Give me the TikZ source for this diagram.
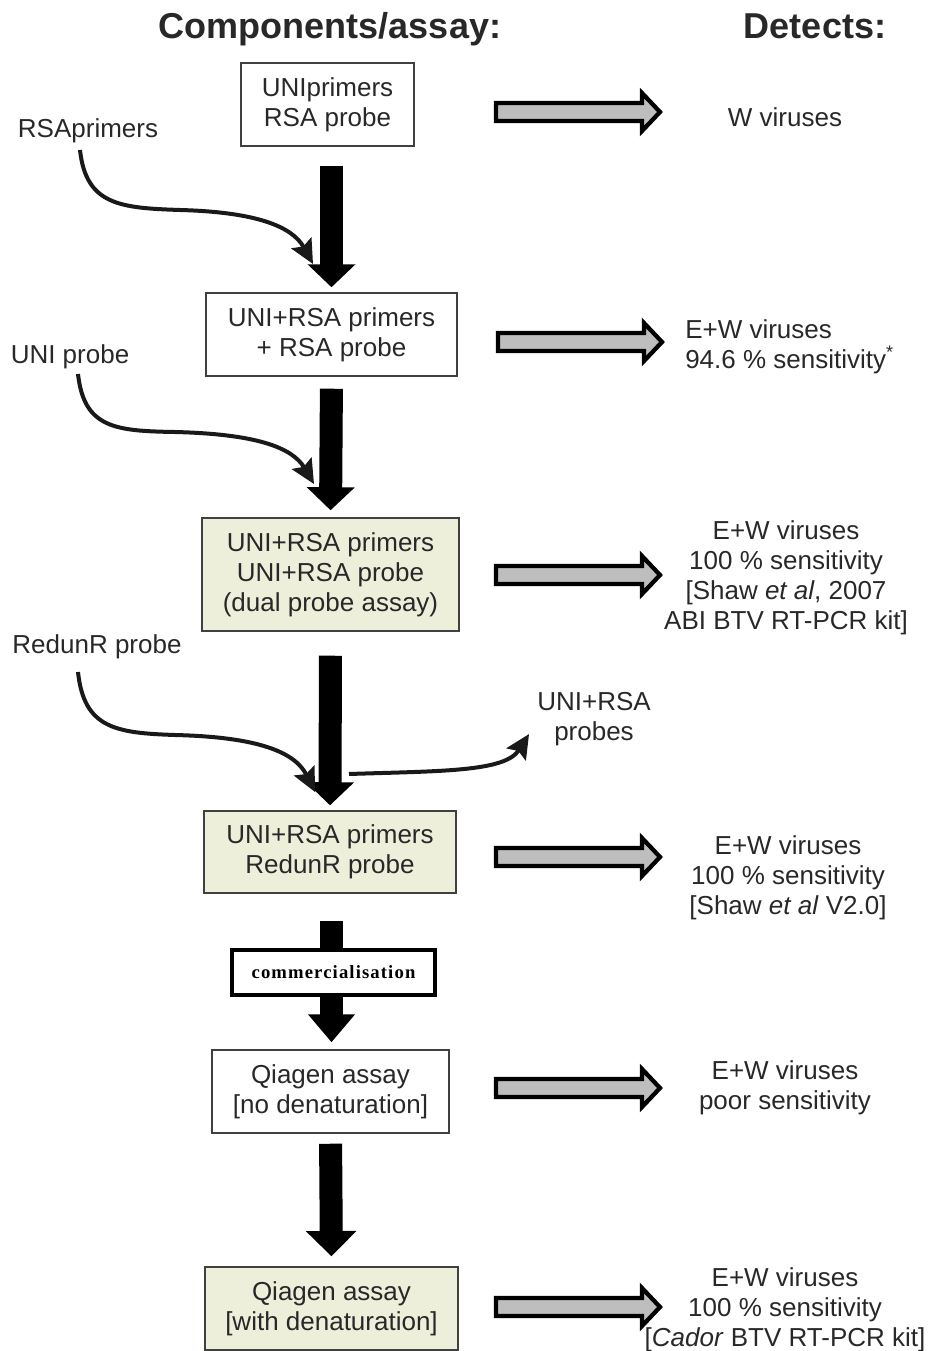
\documentclass[tikz,border=0pt]{standalone}
\usepackage{fontspec}
\setmainfont{Liberation Sans}
\newfontfamily\commfont[LetterSpace=6]{Liberation Serif}
\usetikzlibrary{arrows.meta,calc}
\definecolor{boxgreen}{RGB}{237,239,219}
\definecolor{txt}{RGB}{40,40,40}
\definecolor{arrowgray}{RGB}{190,190,190}
\newcommand\bxfont{\fontsize{19.5pt}{22.5pt}\selectfont}
\newcommand\ttlfont{\fontsize{27pt}{30pt}\selectfont\bfseries}
\tikzset{
  box/.style={draw=black!75, line width=1.1pt, align=center, inner sep=0pt, font=\bxfont, text=txt},
  greenbox/.style={box, fill=boxgreen},
  lbl/.style={align=center, inner sep=0pt, font=\bxfont, text=txt},
  downarrow/.style={draw=black, line width=17.25pt, -{Triangle[length=17.25pt,width=35pt]}},
  shaft/.style={draw=black, line width=17.25pt},
  curvearrow/.style={draw=black!90, line width=3pt, -{Stealth[length=18pt,width=17pt,inset=3pt]}},
  grayarrow/.pic={
    \filldraw[draw=black, fill=arrowgray, line width=3.2pt, line join=miter]
      (0,-9) -- (146,-9) -- (146,-19) -- (164,0) -- (146,19) -- (146,9) -- (0,9) -- cycle;
  }
}
\begin{document}
\begin{tikzpicture}[x=0.75pt,y=-0.75pt]
\useasboundingbox (0,0) rectangle (930,1351);

% titles
\node[font=\ttlfont, text=txt, anchor=base, inner sep=0pt] (t1) at (330,39) {Components/assay:};
\node[font=\ttlfont, text=txt, anchor=base, inner sep=0pt] (t2) at (815,39) {Detects:};

% boxes
\node[box, minimum width=129.75pt, minimum height=62.25pt] (b1) at (327.5,104.5) {UNIprimers\\RSA probe};
\node[box, minimum width=188.25pt, minimum height=62.25pt] (b2) at (331.5,334.5) {UNI+RSA primers\\+ RSA probe};
\node[greenbox, minimum width=192.75pt, minimum height=84.75pt] (b3) at (330.5,574.5) {UNI+RSA primers\\UNI+RSA probe\\(dual probe assay)};
\node[greenbox, minimum width=189pt, minimum height=61.5pt] (b4) at (330,852) {UNI+RSA primers\\RedunR probe};
\node[draw=black, line width=2.4pt, fill=white, minimum width=152.25pt, minimum height=33.75pt, inner sep=0pt,
      font=\commfont\bfseries\fontsize{14pt}{16pt}\selectfont] (cm) at (333.5,972.5) {commercialisation};
\node[box, minimum width=177.75pt, minimum height=62.25pt] (b6) at (330.5,1091.5) {Qiagen assay\\{}[no denaturation]};
\node[greenbox, minimum width=189.75pt, minimum height=62.25pt] (b7) at (331.5,1308.5) {Qiagen assay\\{}[with denaturation]};

% side labels
\node[lbl] (l1) at (88,131) {RSAprimers};
\node[lbl] (l2) at (70,357) {UNI probe};
\node[lbl] (l3) at (97,647) {RedunR probe};
\node[lbl] (l4) at (594,719) {UNI+RSA\\probes};

% right texts
\node[lbl] (r1) at (785,117) {W viruses};
\node[lbl, align=left, anchor=west] (r2) at (685,347) {E+W viruses\\94.6 \% sensitivity\textsuperscript{*}};
\node[lbl] (r3) at (786,578) {E+W viruses\\100 \% sensitivity\\{}[Shaw \textit{et al}, 2007\\ABI BTV RT-PCR kit]};
\node[lbl] (r4) at (788,877.5) {E+W viruses\\100 \% sensitivity\\{}[Shaw \textit{et al} V2.0]};
\node[lbl] (r5) at (785,1088) {E+W viruses\\poor sensitivity};
\node[lbl] (r6) at (785,1309.5) {E+W viruses\\100 \% sensitivity\\{}[\textit{Cador} BTV RT-PCR kit]};

% big down arrows
\coordinate (a1s) at ($(b1.south -| b2.north)+(0,19)$);
\draw[downarrow, shorten >=3.75pt] (a1s) -- (b2.north);
\draw[downarrow, shorten <=9pt, shorten >=5.25pt] (b2.south) -- (b3.north);
\draw[downarrow, shorten <=18pt, shorten >=3.75pt] (b3.south) -- (b4.north);
\draw[shaft, shorten <=20.25pt] (b4.south -| cm.north) ++(-2,0) coordinate (a4s) -- (a4s |- cm.north);
\draw[downarrow, -{Triangle[length=21pt,width=34pt]}, shorten >=5.25pt] (cm.south -| a4s) -- (b6.north -| a4s);
\draw[downarrow, -{Triangle[length=19pt,width=37pt]}, shorten <=7.5pt, shorten >=7.5pt] (b6.south) -- (b7.north);

% gray arrows
\pic at (496,112) {grayarrow};
\pic at (498,342) {grayarrow};
\pic at (496,575) {grayarrow};
\pic at (496,857) {grayarrow};
\pic at (496,1088) {grayarrow};
\pic at (496,1307) {grayarrow};

% curved arrows
\coordinate (c1s) at (80,150);
\coordinate (c1e) at (313,264);
\draw[curvearrow] (c1s) .. controls (86,205) and (120,208) .. (180,210) .. controls (255,212) and (292,226) .. (c1e);
\coordinate (c2s) at (78,374);
\coordinate (c2e) at (314,484);
\draw[curvearrow] (c2s) .. controls (84,428) and (115,431) .. (175,432) .. controls (255,434) and (292,447) .. (c2e);
\coordinate (c3s) at (78,672);
\coordinate (c3e) at (315,792);
\draw[curvearrow] (c3s) .. controls (84,728) and (115,733) .. (175,735) .. controls (258,737) and (295,752) .. (c3e);
\coordinate (c4s) at (349,774);
\coordinate (c4e) at ($(l4.south west)+(-8,-12)$);
\draw[curvearrow] (c4s) .. controls (440,771) and (505,772) .. (c4e);
\end{tikzpicture}
\end{document}
